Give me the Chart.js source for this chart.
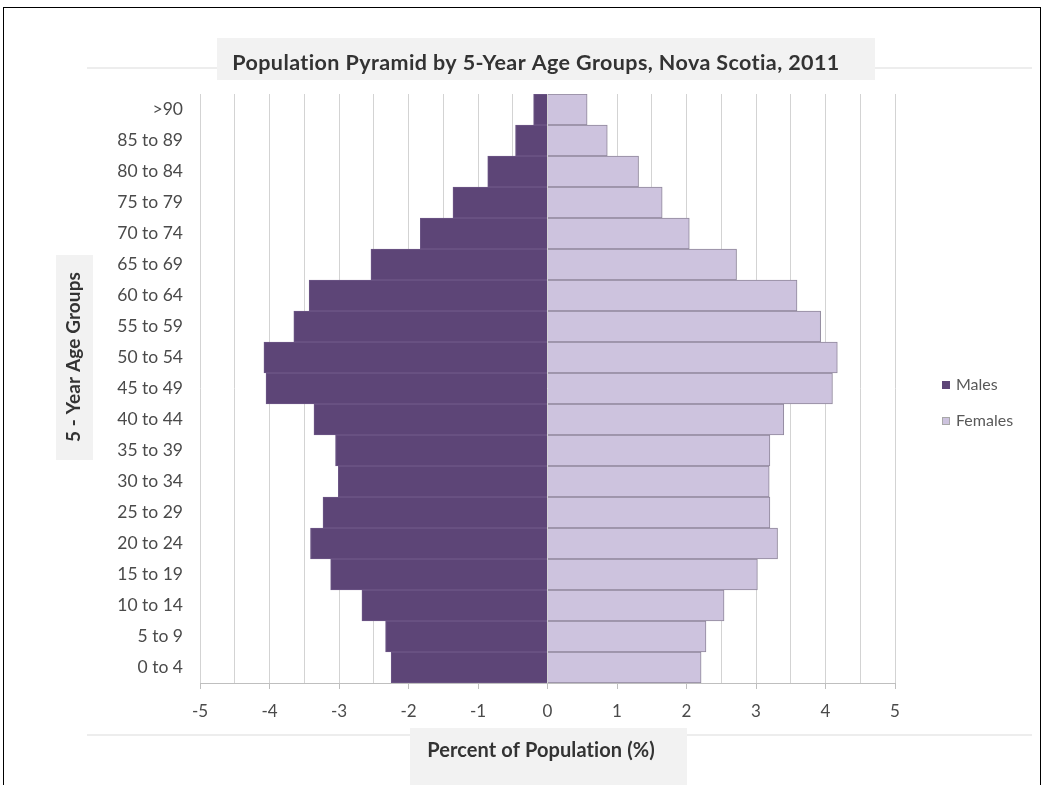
<!DOCTYPE html>
<html>
<head>
<meta charset="utf-8">
<script src="https://cdn.jsdelivr.net/npm/chart.js@4.4.1/dist/chart.umd.min.js"></script>
<style>
  html, body { margin: 0; padding: 0; background: #fff; }
  #c { display: block; }
</style>
</head>
<body>
<canvas id="c" width="1046" height="785"></canvas>
<script>
// ---- data (top row first) ----
const ageGroups = ['>90','85 to 89','80 to 84','75 to 79','70 to 74','65 to 69','60 to 64','55 to 59','50 to 54','45 to 49','40 to 44','35 to 39','30 to 34','25 to 29','20 to 24','15 to 19','10 to 14','5 to 9','0 to 4'];
const males   = [-0.20,-0.46,-0.86,-1.36,-1.83,-2.54,-3.43,-3.65,-4.08,-4.05,-3.36,-3.05,-3.01,-3.23,-3.41,-3.12,-2.67,-2.33,-2.25];
const females = [0.57,0.86,1.31,1.65,2.04,2.72,3.59,3.93,4.17,4.10,3.40,3.20,3.19,3.20,3.31,3.02,2.54,2.28,2.21];
const seriesNames = ['Males','Females'];
const chartTitle = 'Population Pyramid by 5-Year Age Groups, Nova Scotia, 2011';
const xTitle = 'Percent of Population (%)';
const yTitle = '5 - Year Age Groups';

const FONT = 'Lato, Calibri, "Open Sans", sans-serif';
const maleColor = '#5d4577', maleBorder = '#6c5686';
const femaleColor = '#cdc3de', femaleBorder = '#8f879b';
const textColor = '#4a4a4a';

const decor = {
  id: 'decor',
  beforeDraw(chart) {
    const ctx = chart.ctx;
    ctx.save();
    ctx.fillStyle = '#fff';
    ctx.fillRect(0, 0, chart.width, chart.height);
    ctx.fillStyle = '#ededed';
    ctx.fillRect(87, 67, 945, 2);
    ctx.fillRect(87, 734, 945, 2);
    ctx.fillStyle = '#f2f2f2';
    ctx.fillRect(217, 38, 658, 42);
    ctx.fillRect(56, 255, 37, 205);
    ctx.fillRect(410, 728, 277, 60);
    ctx.restore();
  },
  afterDraw(chart) {
    const ctx = chart.ctx;
    ctx.save();
    ctx.strokeStyle = '#000';
    ctx.lineWidth = 1;
    ctx.strokeRect(3.5, 7.5, 1037, 800);
    ctx.fillStyle = '#333';
    ctx.textAlign = 'center';
    ctx.textBaseline = 'middle';
    if ('letterSpacing' in ctx) ctx.letterSpacing = '0.4px';
    ctx.font = 'bold 21.5px ' + FONT;
    ctx.fillText(chartTitle, 536, 63);
    if ('letterSpacing' in ctx) ctx.letterSpacing = '0.1px';
    ctx.font = 'bold 20px ' + FONT;
    ctx.fillText(xTitle, 541, 751);
    ctx.translate(74, 357);
    ctx.rotate(-Math.PI / 2);
    ctx.font = 'bold 19px ' + FONT;
    ctx.fillText(yTitle, 0, 0);
    ctx.restore();
    // legend
    ctx.save();
    ctx.font = '16px ' + FONT;
    ctx.textAlign = 'left';
    ctx.textBaseline = 'middle';
    const ds = chart.data.datasets;
    const ys = [385, 421];
    ds.forEach((d, i) => {
      ctx.fillStyle = d.backgroundColor;
      ctx.fillRect(942, ys[i] - 4, 8, 8);
      ctx.strokeStyle = i === 0 ? d.backgroundColor : '#a8a8a8';
      ctx.lineWidth = 1;
      ctx.strokeRect(942.5, ys[i] - 3.5, 7, 7);
      ctx.fillStyle = '#595959';
      ctx.fillText(d.label, 956, ys[i]);
    });
    ctx.restore();
  }
};

new Chart(document.getElementById('c'), {
  type: 'bar',
  data: {
    labels: ageGroups,
    datasets: [
      { label: seriesNames[0], data: males, backgroundColor: maleColor, borderColor: maleBorder, borderWidth: 1 },
      { label: seriesNames[1], data: females, backgroundColor: femaleColor, borderColor: femaleBorder, borderWidth: 1 }
    ]
  },
  plugins: [decor],
  options: {
    indexAxis: 'y',
    responsive: false,
    animation: false,
    barPercentage: 1,
    categoryPercentage: 1,
    layout: { padding: { left: 60, right: 151, top: 94, bottom: 62 } },
    plugins: {
      legend: { display: false },
      title: { display: false },
      tooltip: { enabled: false }
    },
    scales: {
      x: {
        stacked: true,
        min: -5, max: 5,
        afterFit(s) { s.height = 40; },
        grid: {
          color: '#d3d3d3',
          lineWidth: 1,
          drawTicks: true,
          tickLength: 6,
          tickColor: (c) => (c.tick && Number.isInteger(c.tick.value)) ? '#bfbfbf' : 'rgba(0,0,0,0)'
        },
        border: { display: true, color: '#bfbfbf' },
        ticks: {
          stepSize: 0.5,
          autoSkip: false,
          maxRotation: 0,
          padding: 12,
          color: textColor,
          font: { family: FONT, size: 17 },
          callback: (v) => Number.isInteger(v) ? String(v) : ''
        }
      },
      y: {
        stacked: true,
        afterFit(s) { s.width = 140; },
        grid: { display: false, drawTicks: false },
        border: { display: false },
        ticks: {
          padding: 17,
          color: textColor,
          font: { family: FONT, size: 17.5 },
          autoSkip: false
        }
      }
    }
  }
});
</script>
</body>
</html>
